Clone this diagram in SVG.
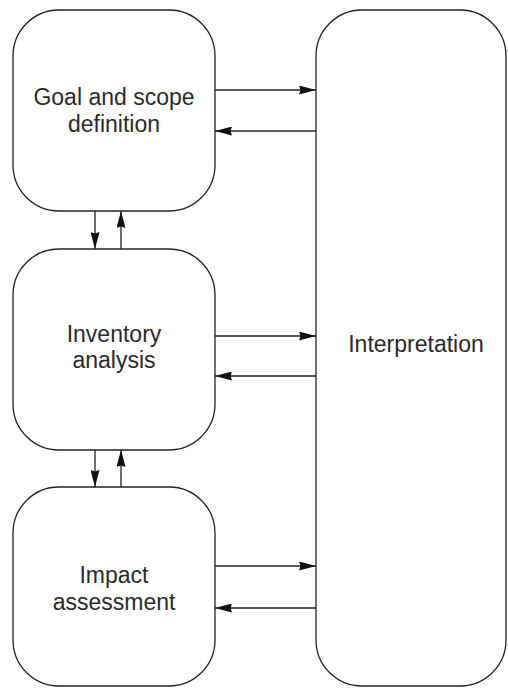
<svg xmlns="http://www.w3.org/2000/svg" width="508" height="688" viewBox="0 0 508 688">
<style>
.box{fill:#fff;stroke:#222;stroke-width:1.3}
.lbl{font-family:"Liberation Sans",Arial,sans-serif;font-size:23px;fill:#2a2a2a;text-anchor:middle}
.c{stroke:#222;stroke-width:1.3;fill:none}
</style>
<defs>
<marker id="ah" viewBox="0 0 17 9" refX="17" refY="4.5" markerWidth="17" markerHeight="9" markerUnits="userSpaceOnUse" orient="auto">
<path d="M0,0 L17,4.5 L0,9 L1.5,4.5 Z" fill="#111"/>
</marker>
</defs>
<rect width="508" height="688" fill="#fff"/>
<g id="goal">
<rect class="box" x="13" y="10" width="202" height="201" rx="46" ry="46"/>
<text class="lbl" x="114" y="105">Goal and scope</text>
<text class="lbl" x="114" y="132">definition</text>
</g>
<g id="inventory">
<rect class="box" x="13" y="249" width="202" height="201" rx="46" ry="46"/>
<text class="lbl" x="114" y="342">Inventory</text>
<text class="lbl" x="114" y="368">analysis</text>
</g>
<g id="impact">
<rect class="box" x="13" y="487" width="202" height="199" rx="46" ry="46"/>
<text class="lbl" x="114" y="583">Impact</text>
<text class="lbl" x="114" y="610">assessment</text>
</g>
<g id="interpretation">
<rect class="box" x="316" y="10" width="190" height="676" rx="46" ry="46"/>
<text class="lbl" x="416" y="352">Interpretation</text>
</g>
<g id="connectors">
<line class="c" x1="215" y1="90" x2="316" y2="90" marker-end="url(#ah)"/>
<line class="c" x1="316" y1="131" x2="215" y2="131" marker-end="url(#ah)"/>
<line class="c" x1="215" y1="336" x2="316" y2="336" marker-end="url(#ah)"/>
<line class="c" x1="316" y1="376" x2="215" y2="376" marker-end="url(#ah)"/>
<line class="c" x1="215" y1="566" x2="316" y2="566" marker-end="url(#ah)"/>
<line class="c" x1="316" y1="608" x2="215" y2="608" marker-end="url(#ah)"/>
<line class="c" x1="95" y1="211" x2="95" y2="249" marker-end="url(#ah)"/>
<line class="c" x1="121" y1="249" x2="121" y2="211" marker-end="url(#ah)"/>
<line class="c" x1="95" y1="450" x2="95" y2="487" marker-end="url(#ah)"/>
<line class="c" x1="121" y1="487" x2="121" y2="450" marker-end="url(#ah)"/>
</g>
</svg>
